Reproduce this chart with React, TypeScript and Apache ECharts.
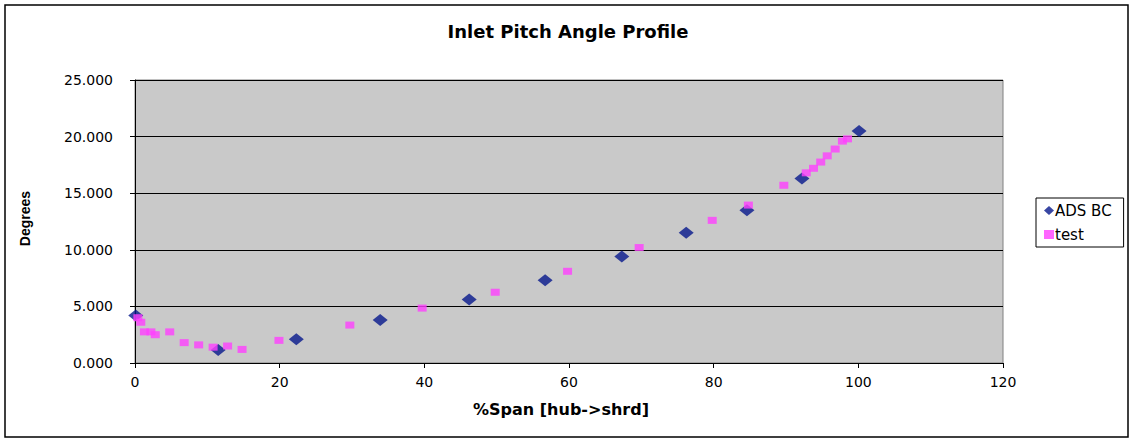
import React, { useEffect, useRef } from "react";
import * as echarts from "echarts";

const titleText = "Inlet Pitch Angle Profile";
const xAxisName = "%Span [hub->shrd]";
const yAxisName = "Degrees";
const seriesNames = ["ADS BC", "test"];

const adsX = [0.1, 11.5, 22.3, 33.9, 46.2, 56.7, 67.3, 76.2, 84.6, 92.2, 100.1];
const adsY = [4.2, 1.15, 2.1, 3.8, 5.6, 7.3, 9.4, 11.5, 13.5, 16.3, 20.5];

const testX = [0.4, 0.8, 1.3, 2.2, 2.8, 4.8, 6.8, 8.8, 10.8, 12.8, 14.8, 19.9, 29.7, 39.7, 49.8, 59.8, 69.7, 79.8, 84.8, 89.7, 92.8, 93.8, 94.8, 95.7, 96.8, 97.8, 98.5];
const testY = [4.0, 3.6, 2.75, 2.75, 2.5, 2.75, 1.8, 1.6, 1.4, 1.5, 1.2, 2.0, 3.35, 4.85, 6.25, 8.1, 10.2, 12.6, 13.95, 15.7, 16.8, 17.2, 17.75, 18.3, 18.9, 19.6, 19.8];

const WIDE = "DejaVu Sans, Verdana, sans-serif";
const NARROW = "Liberation Sans, Arial, sans-serif";
const NAVY = "#06188C";
const PINK = "#FF40FF";

export default function App() {
  const ref = useRef<HTMLDivElement>(null);
  useEffect(() => {
    document.body.style.margin = "0";
    const chart = echarts.init(ref.current!, null, { renderer: "svg" });
    chart.setOption({
      animation: false,
      backgroundColor: "#ffffff",
      textStyle: { fontFamily: WIDE },
      title: {
        text: titleText,
        left: 563,
        textAlign: "center",
        top: 17,
        textStyle: { fontFamily: WIDE, fontSize: 18, fontWeight: "bold", color: "#000" },
      },
      graphic: [
        {
          type: "rect",
          shape: { x: 5, y: 5, width: 1123, height: 432 },
          style: { fill: "none", stroke: "#000", lineWidth: 1.5 },
          silent: true,
          z: -1,
        },
      ],
      legend: {
        orient: "vertical",
        left: 1036,
        top: 198,
        width: 95,
        padding: [5, 12, 5, 8],
        itemGap: 9,
        itemWidth: 10,
        itemHeight: 9,
        backgroundColor: "#fff",
        borderColor: "#000",
        borderWidth: 1,
        borderRadius: 0,
        textStyle: { fontFamily: WIDE, fontSize: 15, color: "#000", padding: [0, 0, 0, -4] },
        data: [
          { name: seriesNames[0], icon: "diamond", itemStyle: { color: NAVY } },
          { name: seriesNames[1], icon: "rect", itemStyle: { color: PINK } },
        ],
      },
      grid: {
        left: 135,
        right: 130,
        top: 80,
        bottom: 76,
        show: true,
        backgroundColor: "#C9C9C9",
        borderColor: "#808080",
        borderWidth: 1,
      },
      xAxis: {
        type: "value",
        min: 0,
        max: 120,
        interval: 20,
        name: xAxisName,
        nameLocation: "middle",
        nameGap: 38,
        nameTextStyle: { fontFamily: WIDE, fontSize: 16, fontWeight: "bold", color: "#000", padding: [0, 16, 0, 0] },
        axisLine: { show: true, onZero: false, lineStyle: { color: "#000", width: 1 } },
        axisTick: { show: true, length: 5, inside: false, lineStyle: { color: "#000" } },
        axisLabel: { fontFamily: WIDE, fontSize: 14, color: "#000", margin: 12 },
        splitLine: { show: false },
      },
      yAxis: {
        type: "value",
        min: 0,
        max: 25,
        interval: 5,
        name: yAxisName,
        nameLocation: "middle",
        nameGap: 103,
        nameRotate: 90,
        nameTextStyle: { fontFamily: NARROW, fontSize: 14, fontWeight: "bold", color: "#000", padding: [0, 0, 0, 6] },
        axisLine: { show: true, onZero: false, lineStyle: { color: "#000", width: 1 } },
        axisTick: { show: true, length: 5, inside: false, lineStyle: { color: "#000" } },
        axisLabel: {
          fontFamily: WIDE,
          fontSize: 14,
          color: "#000",
          margin: 22,
          formatter: (v: number) => v.toFixed(3),
        },
        splitLine: { show: true, lineStyle: { color: "#000", width: 1 } },
      },
      series: [
        {
          name: seriesNames[0],
          type: "scatter",
          symbol: "diamond",
          symbolSize: [15, 12],
          itemStyle: { color: NAVY },
          data: adsX.map((x, i) => [x, adsY[i]]),
          z: 2,
        },
        {
          name: seriesNames[1],
          type: "scatter",
          symbol: "rect",
          symbolSize: [9, 7],
          itemStyle: { color: PINK },
          data: testX.map((x, i) => [x, testY[i]]),
          z: 3,
        },
      ],
    });
    return () => chart.dispose();
  }, []);
  return <div ref={ref} style={{ width: 1133, height: 439 }} />;
}
